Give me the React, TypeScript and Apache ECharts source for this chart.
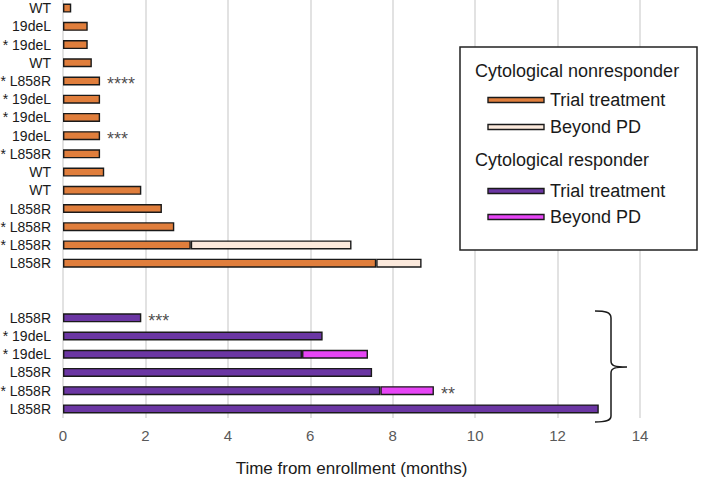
import React, { useEffect, useRef } from "react";
import * as echarts from "echarts";

// ---- data ----
const nonLabels = ["WT", "19deL", "* 19deL", "WT", "* L858R", "* 19deL", "* 19deL", "19deL", "* L858R", "WT", "WT", "L858R", "* L858R", "* L858R", "L858R"];
const nonTrial = [0.2, 0.6, 0.6, 0.7, 0.9, 0.9, 0.9, 0.9, 0.9, 1.0, 1.9, 2.4, 2.7, 3.1, 7.6];
const nonBeyond: (number | null)[] = [null, null, null, null, null, null, null, null, null, null, null, null, null, 3.9, 1.1];
const nonMarks = ["", "", "", "", "****", "", "", "***", "", "", "", "", "", "", ""];

const respLabels = ["L858R", "* 19deL", "* 19deL", "L858R", "* L858R", "L858R"];
const respTrial = [1.9, 6.3, 5.8, 7.5, 7.7, 13.0];
const respBeyond: (number | null)[] = [null, null, 1.6, null, 1.3, null];
const respMarks = ["***", "", "", "", "**", ""];

const gapRows = 2;
const xTicks = { min: 0, max: 14, interval: 2 };

const COLORS = {
  nonTrial: "#E07E3C",
  nonBeyond: "#FBE9DC",
  respTrial: "#6B36A3",
  respBeyond: "#E645F5",
};

try {
  const Brace = echarts.graphic.extendPath(
    "M595,311 C605,311 611,312 611,318 L611,361 C611,366 615,367 627,367 C615,367 611,368 611,373 L611,416 C611,421 605,422 595,422",
    {}
  );
  echarts.graphic.registerShape("brace", Brace as any);
} catch (e) {
  // ignore
}

export default function App() {
  const ref = useRef<HTMLDivElement>(null);

  useEffect(() => {
    document.body.style.margin = "0";
    if (!ref.current) return;
    const chart = echarts.init(ref.current, undefined, { renderer: "svg" });

    const categories = [...nonLabels, ...Array(gapRows).fill(""), ...respLabels];
    const nonN = nonLabels.length;
    const nTotal = categories.length;

    const pad = (arr: (number | null)[], start: number) => {
      const out: (number | null)[] = Array(nTotal).fill(null);
      arr.forEach((v, i) => (out[start + i] = v));
      return out;
    };

    const marks: any[] = [];
    nonMarks.forEach((m, i) => {
      if (m) marks.push({ value: [nonTrial[i] + (nonBeyond[i] || 0), i], mark: m });
    });
    respMarks.forEach((m, i) => {
      if (m) marks.push({ value: [respTrial[i] + (respBeyond[i] || 0), nonN + gapRows + i], mark: m });
    });

    const barBase = {
      type: "bar",
      stack: "total",
      barWidth: 9,
      itemStyle: { borderColor: "#1a1a1a", borderWidth: 1.4 },
    };

    const font = "Liberation Sans, Arial, sans-serif";
    const legendItems = [
      { kind: "title", text: "Cytological nonresponder", y: 71 },
      { kind: "item", text: "Trial treatment", y: 100, color: COLORS.nonTrial },
      { kind: "item", text: "Beyond PD", y: 127, color: COLORS.nonBeyond },
      { kind: "title", text: "Cytological responder", y: 160 },
      { kind: "item", text: "Trial treatment", y: 191, color: COLORS.respTrial },
      { kind: "item", text: "Beyond PD", y: 217, color: COLORS.respBeyond },
    ];
    const legendGraphics: any[] = [
      {
        type: "rect",
        shape: { x: 460, y: 47, width: 237, height: 203 },
        style: { fill: "#fff", stroke: "#222", lineWidth: 1.5 },
        z: 100,
      },
    ];
    legendItems.forEach((it) => {
      if (it.kind === "title") {
        legendGraphics.push({
          type: "text",
          x: 475,
          y: it.y,
          style: { text: it.text, fill: "#1a1a1a", font: `18px ${font}`, verticalAlign: "middle", align: "left" },
          z: 101,
        });
      } else {
        legendGraphics.push({
          type: "rect",
          shape: { x: 488, y: it.y - 2.5, width: 56, height: 5 },
          style: { fill: it.color, stroke: "#1a1a1a", lineWidth: 1.4 },
          z: 101,
        });
        legendGraphics.push({
          type: "text",
          x: 550,
          y: it.y,
          style: { text: it.text, fill: "#1a1a1a", font: `18px ${font}`, verticalAlign: "middle", align: "left" },
          z: 101,
        });
      }
    });

    chart.setOption({
      animation: false,
      textStyle: { fontFamily: font },
      grid: { left: 63, right: 69, top: -1, height: 419, containLabel: false, outerBoundsMode: "none" },
      xAxis: {
        type: "value",
        min: xTicks.min,
        max: xTicks.max,
        interval: xTicks.interval,
        axisLine: { show: false },
        axisTick: { show: false },
        splitLine: { show: true, lineStyle: { color: "#d9d9d9", width: 1.5 } },
        axisLabel: { fontSize: 15, color: "#595959", margin: 10 },
        name: "Time from enrollment (months)",
        nameLocation: "middle",
        nameGap: 42,
        nameTextStyle: { fontSize: 17, color: "#1a1a1a" },
      },
      yAxis: {
        type: "category",
        inverse: true,
        data: categories,
        axisLine: { show: false },
        axisTick: { show: false },
        axisLabel: { fontSize: 14, color: "#1a1a1a", margin: 12, interval: 0 },
      },
      series: [
        { ...barBase, name: "nonTrial", data: pad(nonTrial, 0), itemStyle: { ...barBase.itemStyle, color: COLORS.nonTrial } },
        { ...barBase, name: "nonBeyond", data: pad(nonBeyond, 0), itemStyle: { ...barBase.itemStyle, color: COLORS.nonBeyond } },
        { ...barBase, name: "respTrial", data: pad(respTrial, nonN + gapRows), itemStyle: { ...barBase.itemStyle, color: COLORS.respTrial } },
        { ...barBase, name: "respBeyond", data: pad(respBeyond, nonN + gapRows), itemStyle: { ...barBase.itemStyle, color: COLORS.respBeyond } },
        {
          type: "scatter",
          symbolSize: 0,
          data: marks,
          silent: true,
          label: {
            show: true,
            position: "right",
            distance: 7,
            offset: [0, 3],
            fontSize: 18,
            color: "#1a1a1a",
            formatter: (p: any) => p.data.mark,
          },
        },
      ],
      graphic: [
        ...legendGraphics,
        {
          type: "brace",
          x: 0,
          y: 0,
          shape: {},
          style: { stroke: "#1a1a1a", fill: "none", lineWidth: 1.5 },
          z: 100,
        },
      ],
    });

    return () => chart.dispose();
  }, []);

  return <div ref={ref} style={{ width: 709, height: 479 }} />;
}
